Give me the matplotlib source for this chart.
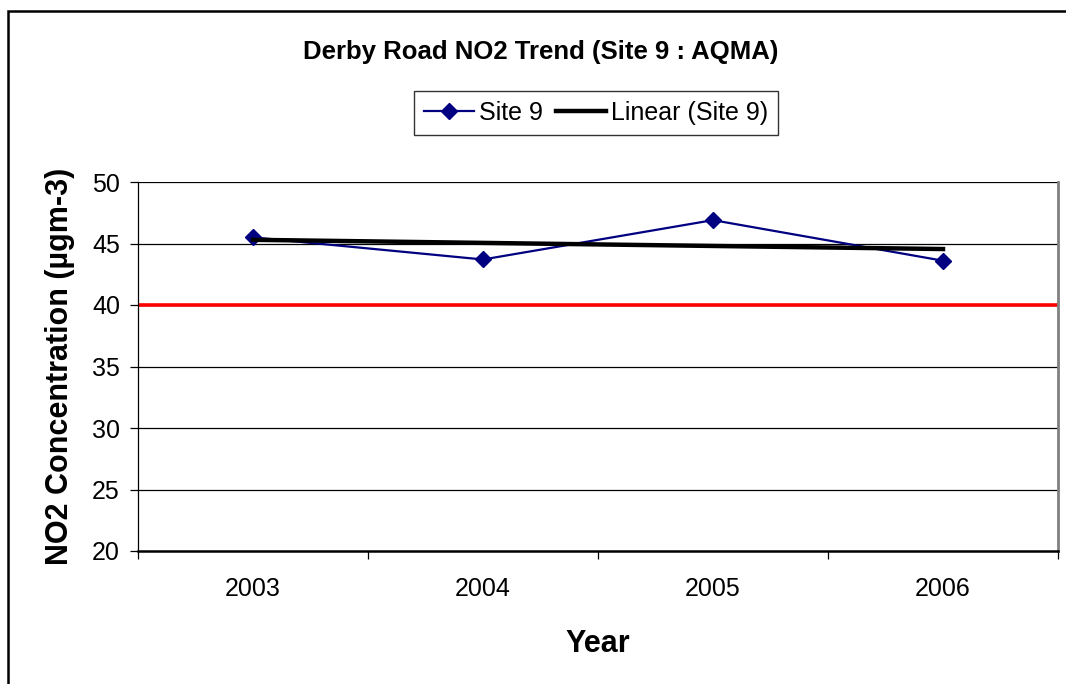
import matplotlib
matplotlib.use("Agg")
import matplotlib.pyplot as plt
import numpy as np
from matplotlib.patches import Rectangle
from matplotlib.lines import Line2D

plt.rcParams['font.family'] = ['Liberation Sans', 'DejaVu Sans']

years = ['2003', '2004', '2005', '2006']
site9 = [45.5, 43.7, 46.9, 43.6]
objective = 40
yticks = [20, 25, 30, 35, 40, 45, 50]

W, H = 1066, 684
fig = plt.figure(figsize=(W / 100, H / 100), dpi=100)

# outer chart border
fig.patches.append(Rectangle((8 / W, -0.05), 1.2, 1 - 11 / H + 0.05, transform=fig.transFigure,
                             fill=False, edgecolor='black', linewidth=1.8))

ax = fig.add_axes([138 / W, 1 - 551 / H, (1058 - 138) / W, (551 - 182) / H])
x = np.arange(len(years))
ax.set_xlim(-0.5, len(years) - 0.5)
ax.set_ylim(20, 50)

for yv in yticks[1:]:
    ax.axhline(yv, color='black', linewidth=0.9, zorder=1)
ax.axhline(objective, color='#ff0000', linewidth=2.6, zorder=2)

coef = np.polyfit(x, site9, 1)
trend = np.polyval(coef, x)
ax.plot(x, site9, color='#000080', linewidth=1.6, marker='D', markersize=8,
        markerfacecolor='#000080', markeredgecolor='#000080', zorder=3)
ax.plot(x, trend, color='black', linewidth=3.2, zorder=4)

ax.set_yticks(yticks)
ax.set_yticklabels([str(v) for v in yticks])
ax.set_xticks(np.arange(len(years) + 1) - 0.5)
ax.set_xticklabels([''] * (len(years) + 1))
ax.set_xticks(x, minor=True)
ax.set_xticklabels(years, minor=True)
ax.tick_params(axis='x', which='major', length=6, width=0.9, direction='out')
ax.tick_params(axis='x', which='minor', length=0, pad=19, labelsize=18)
ax.tick_params(axis='y', length=6, width=0.9, pad=7, labelsize=18)

ax.spines['top'].set_visible(False)
ax.spines['right'].set_color('#808080')
ax.spines['right'].set_linewidth(2)
ax.spines['left'].set_linewidth(0.9)
ax.spines['bottom'].set_linewidth(1.8)

ax.set_ylabel('NO2 Concentration (µgm-3)', fontsize=22, fontweight='bold', labelpad=12)
ax.set_xlabel('Year', fontsize=22, fontweight='bold', labelpad=20)

fig.text(541 / W, 1 - 52 / H, 'Derby Road NO2 Trend (Site 9 : AQMA)', ha='center', va='center',
         fontsize=18.5, fontweight='bold')

handles = [Line2D([], [], color='#000080', linewidth=1.6, marker='D', markersize=8),
           Line2D([], [], color='black', linewidth=3.2)]
leg = fig.legend(handles, ['Site 9', 'Linear (Site 9)'], loc='center',
                 bbox_to_anchor=(596 / W, 1 - 113 / H), ncol=2, fontsize=18,
                 frameon=True, fancybox=False, edgecolor='black', handlelength=2.0,
                 handletextpad=0.2, columnspacing=0.5, borderpad=0.4)
leg.get_frame().set_linewidth(1.0)

fig.savefig('out.png', dpi=100)
